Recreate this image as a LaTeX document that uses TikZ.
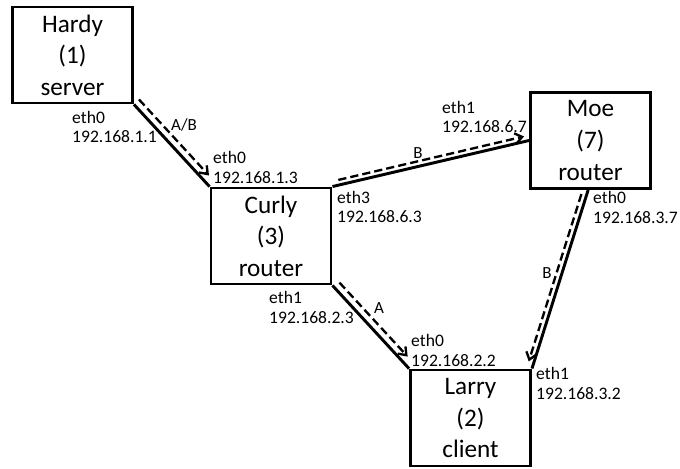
\documentclass[tikz,border=0pt]{standalone}
\usepackage{fontspec}
\setmainfont{Carlito}
\usetikzlibrary{arrows.meta}

\tikzset{
  host/.style={draw, line width=2.5pt, minimum width=3.6cm, minimum height=2.88cm,
    inner sep=0pt, align=center, font=\fontsize{21.5}{27}\selectfont},
  iface/.style={anchor=west, inner sep=0pt, align=left, font=\fontsize{15}{17}\selectfont},
  tag/.style={inner sep=0pt, font=\fontsize{14.5}{17}\selectfont},
  link/.style={line width=2.5pt},
  flow/.style={line width=2pt, dash pattern=on 7pt off 3.5pt, ->,
    >={Straight Barb[length=6pt,width=9pt]}}
}

\begin{document}
\begin{tikzpicture}[x=0.03cm, y=-0.03cm]

  \useasboundingbox (0,0) rectangle (680,468);

  % hosts
  \node[host] (hardy) at (72.5,55)   {Hardy\\(1)\\server};
  \node[host] (curly) at (271,236)   {Curly\\(3)\\router};
  \node[host] (moe)   at (590.5,140.5) {Moe\\(7)\\router};
  \node[host] (larry) at (470.5,418) {Larry\\(2)\\client};

  % interfaces
  \node[iface] (h0) at (72,127)   {eth0\\192.168.1.1};
  \node[iface] (c0) at (213,167.5) {eth0\\192.168.1.3};
  \node[iface] (m1) at (442,117)  {eth1\\192.168.6.7};
  \node[iface] (c3) at (337,207)  {eth3\\192.168.6.3};
  \node[iface] (m0) at (593,207.5) {eth0\\192.168.3.7};
  \node[iface] (c1) at (269,307)  {eth1\\192.168.2.3};
  \node[iface] (l0) at (411,350)  {eth0\\192.168.2.2};
  \node[iface] (l1) at (536,383)  {eth1\\192.168.3.2};

  % links
  \draw[link] (hardy.south east) -- (curly.north west);
  \draw[link] (curly.north east) -- (moe.west);
  \draw[link] (curly.south east) -- (larry.north west);
  \draw[link] ([xshift=-2]moe.south) -- (larry.north east);

  % traffic
  \draw[flow, transform canvas={shift={(5,-5)}}, shorten >=7pt]
    (hardy.south east) -- (curly.north west);
  \draw[flow, transform canvas={shift={(-1,-5)}}, shorten <=6pt, shorten >=3.5pt]
    (curly.north east) -- (moe.west);
  \draw[flow, transform canvas={shift={(-5,-1.5)}}, shorten <=5pt, shorten >=5pt]
    ([xshift=-2]moe.south) -- (larry.north east);
  \draw[flow, transform canvas={shift={(5,-5)}}, shorten <=2.5pt, shorten >=8pt]
    (curly.south east) -- (larry.north west);

  \node[tag] (tab) at (184,125) {A/B};
  \node[tag] (tb1) at (418,153) {B};
  \node[tag] (tb2) at (547,273) {B};
  \node[tag] (ta)  at (379,308) {A};

\end{tikzpicture}
\end{document}
